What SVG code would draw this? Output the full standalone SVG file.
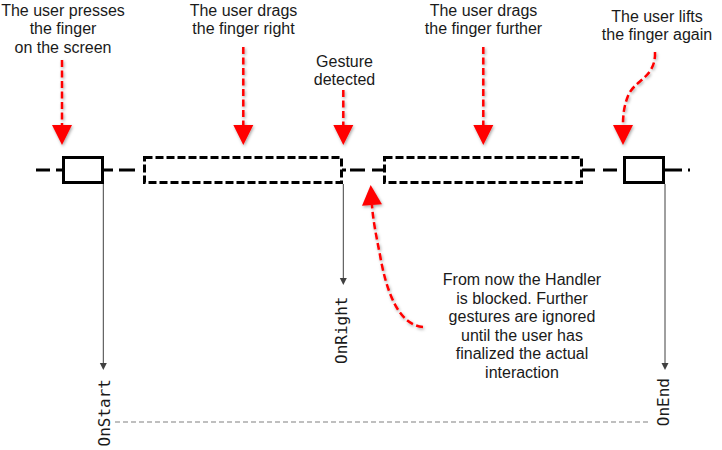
<svg xmlns="http://www.w3.org/2000/svg" width="722" height="450" viewBox="0 0 722 450">
<defs>
<style>
.lbl{font-family:"Liberation Sans","Open Sans",Arial,sans-serif;font-size:16px;fill:#1a1a1a;text-anchor:middle}
.code{font-family:"DejaVu Sans Mono","Liberation Mono",monospace;font-size:16px;fill:#1a1a1a;text-anchor:end}
.tl{stroke:#000;stroke-width:3;fill:none}
.box{stroke:#000;stroke-width:3;fill:#fff}
.dbox{stroke:#000;stroke-width:3;fill:#fff;stroke-dasharray:8 3}
.red{stroke:#f00;stroke-width:2.5;fill:none;stroke-dasharray:7 3.5;marker-end:url(#ra)}
.grey{stroke:#404040;stroke-width:1;fill:none;marker-end:url(#ga)}
</style>
<marker id="ra" markerUnits="userSpaceOnUse" viewBox="0 0 20 20" markerWidth="20" markerHeight="20" refX="0" refY="10" orient="auto" overflow="visible">
<path d="M0,0 L20,10 L0,20 Z" fill="#f00" stroke="none"/>
</marker>
<marker id="ga" markerUnits="userSpaceOnUse" viewBox="0 0 7 7" markerWidth="7" markerHeight="7" refX="0" refY="3.5" orient="auto" overflow="visible">
<path d="M0,0 L7,3.5 L0,7 Z" fill="#404040" stroke="none"/>
</marker>
<filter id="sh" filterUnits="userSpaceOnUse" x="0" y="0" width="722" height="450">
<feDropShadow dx="1" dy="1.5" stdDeviation="1.5" flood-color="#000" flood-opacity="0.35"/>
</filter>
</defs>
<rect width="722" height="450" fill="#fff"/>

<g id="connectors">
<g id="timeline">
<path class="tl" d="M36,170 H50 M56,170 H63 M103,170 H113 M119,170 H135 M342,170 H346 M350,170 H365 M372,170 H384 M582,170 H595 M603,170 H617 M664,170 H682 M688,170 H690"/>
</g>
<g id="event-lines">
<path class="grey" d="M103.3,184 V363"/>
<path class="grey" d="M343.3,184 V278"/>
<path class="grey" d="M665,184 V363"/>
<path d="M115,422 H648" stroke="#aaa" stroke-width="1.5" stroke-dasharray="5 3" fill="none"/>
</g>
<g id="red-arrows" filter="url(#sh)">
<path class="red" d="M62,60 V125"/>
<path class="red" d="M243.3,47 V125"/>
<path class="red" d="M343.3,90 V125"/>
<path class="red" d="M483.3,47 V125"/>
<path class="red" d="M655,52 C656,78 634,80 628,96 C624,106 623,115 623,125"/>
<path class="red" d="M423,327 C398,325 386,290 380,255 C376,235 373,220 372,205"/>
</g>
</g>

<g id="press">
<rect class="box" x="63.5" y="157.5" width="39" height="25"/>
</g>
<g id="drag1">
<rect class="dbox" x="144.5" y="157.5" width="197" height="25"/>
</g>
<g id="drag2">
<rect class="dbox" x="384.5" y="157.5" width="197" height="25"/>
</g>
<g id="lift">
<rect class="box" x="624.5" y="157.5" width="39" height="25"/>
</g>

<g id="label-press">
<text class="lbl" y="15.5"><tspan x="63">The user presses</tspan><tspan x="63" dy="18.5">the finger</tspan><tspan x="63" dy="18.5">on the screen</tspan></text>
</g>
<g id="label-drag1">
<text class="lbl" y="15.5"><tspan x="243.5">The user drags</tspan><tspan x="243.5" dy="18.5">the finger right</tspan></text>
</g>
<g id="label-gesture">
<text class="lbl" y="66.7"><tspan x="344.5">Gesture</tspan><tspan x="344.5" dy="18.3">detected</tspan></text>
</g>
<g id="label-drag2">
<text class="lbl" y="15.5"><tspan x="483.5">The user drags</tspan><tspan x="483.5" dy="18.5">the finger further</tspan></text>
</g>
<g id="label-lift">
<text class="lbl" y="21.7"><tspan x="657">The user lifts</tspan><tspan x="657" dy="18.3">the finger again</tspan></text>
</g>
<g id="label-blocked">
<text class="lbl" y="285"><tspan x="522">From now the Handler</tspan><tspan x="522" dy="18.5">is blocked. Further</tspan><tspan x="522" dy="18.5">gestures are ignored</tspan><tspan x="522" dy="18.5">until the user has</tspan><tspan x="522" dy="18.5">finalized the actual</tspan><tspan x="522" dy="18.5">interaction</tspan></text>
</g>
<g id="OnStart">
<text class="code" transform="translate(110.3,379) rotate(-90)">OnStart</text>
</g>
<g id="OnRight">
<text class="code" transform="translate(347,296.5) rotate(-90)">OnRight</text>
</g>
<g id="OnEnd">
<text class="code" transform="translate(668.5,378) rotate(-90)">OnEnd</text>
</g>
</svg>
